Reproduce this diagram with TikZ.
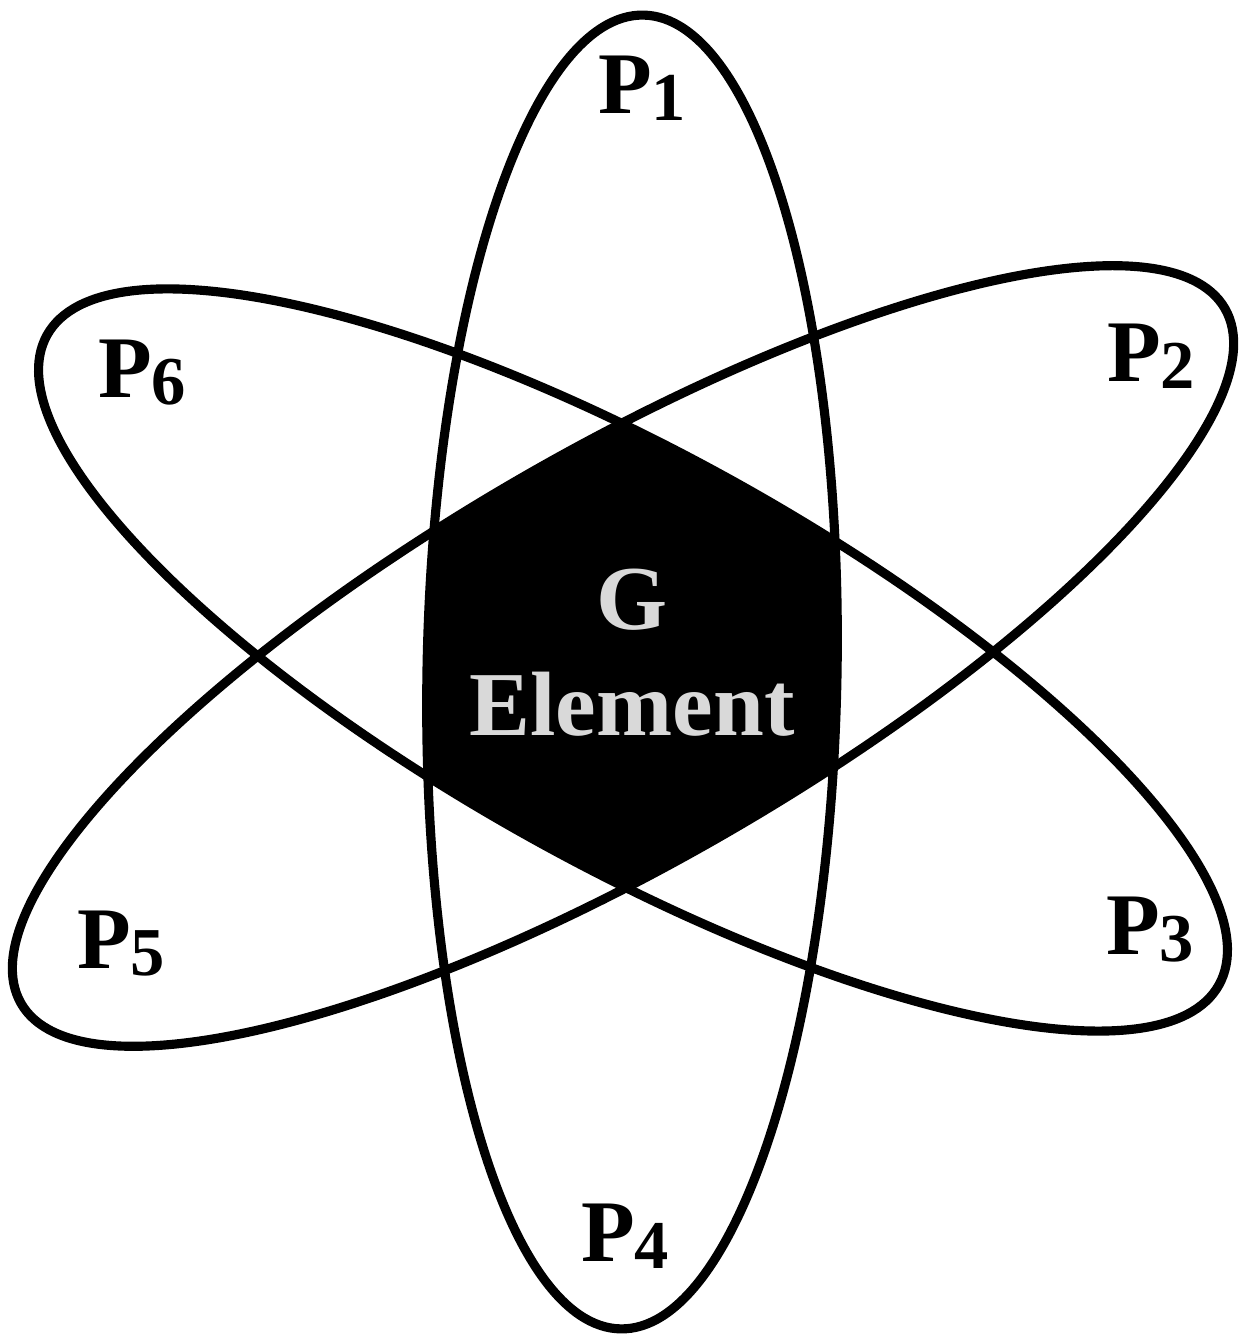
\documentclass[tikz,border=0pt]{standalone}
\usepackage{fontspec}
\setmainfont{Liberation Serif}
\newcommand\plab[1]{\textbf{P}\raisebox{-4pt}{\fontsize{39}{40}\selectfont\textbf{#1}}}
\begin{document}
\begin{tikzpicture}[
  orbit/.style={draw=black, line width=5.2pt},
  lab/.style={font=\fontsize{50}{60}\selectfont, inner sep=0pt},
  core/.style={fill=black},
  coretext/.style={font=\fontsize{52}{60}\selectfont\bfseries, text=white!85!black, inner sep=0pt},
  vorb/.style={rotate around={-1:(12.64,13.38)}},
  aorb/.style={rotate around={-29:(12.66,13.62)}},
  borb/.style={rotate around={30:(12.46,13.70)}}
]
\useasboundingbox (0,0) rectangle (25,26.82);
% hexagonal core: the region inside all three orbits
\begin{scope}
  \clip[vorb] (12.64,13.38) ellipse [x radius=4.10, y radius=13.14];
  \clip[aorb] (12.66,13.62) ellipse [x radius=13.4, y radius=4.1];
  \fill[core, borb] (12.46,13.70) ellipse [x radius=13.9, y radius=4.1];
\end{scope}
% orbits
\draw[orbit, vorb] (12.64,13.38) ellipse [x radius=4.10, y radius=13.14];
\draw[orbit, aorb] (12.66,13.62) ellipse [x radius=13.4, y radius=4.1];
\draw[orbit, borb] (12.46,13.70) ellipse [x radius=13.9, y radius=4.1];
% labels
\node[lab] (p1) at (12.84,25.06) {\plab{1}};
\node[lab] (p2) at (23.02,19.70) {\plab{2}};
\node[lab] (p3) at (23.00,8.22) {\plab{3}};
\node[lab] (p4) at (12.50,2.10) {\plab{4}};
\node[lab] (p5) at (2.42,7.94) {\plab{5}};
\node[lab] (p6) at (2.84,19.36) {\plab{6}};
\node[coretext] (g) at (12.64,14.82) {G};
\node[coretext] (el) at (12.64,12.74) {Element};
\end{tikzpicture}
\end{document}
